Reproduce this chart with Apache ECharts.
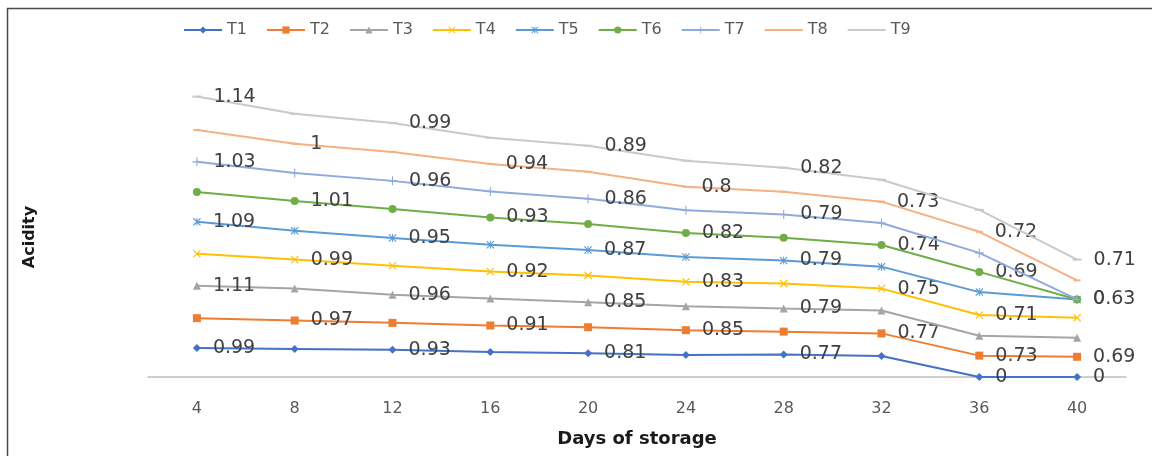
<!DOCTYPE html>
<html>
<head>
<meta charset="utf-8">
<script src="https://cdn.jsdelivr.net/npm/echarts@6/dist/echarts.min.js"></script>
<style>
html,body{margin:0;padding:0;background:#fff;}
#c{width:1152px;height:456px;}
</style>
</head>
<body>
<div id="c"></div>
<script>
var days = ['4','8','12','16','20','24','28','32','36','40'];
var seriesNames = ['T1','T2','T3','T4','T5','T6','T7','T8','T9'];
var T1 = [0.99, 0.96, 0.93, 0.85, 0.81, 0.75, 0.77, 0.72, 0, 0];
var T2 = [1.02, 0.97, 0.92, 0.91, 0.89, 0.85, 0.78, 0.77, 0.73, 0.69];
var T3 = [1.11, 1.09, 0.96, 0.92, 0.85, 0.82, 0.79, 0.78, 0.68, 0.65];
var T4 = [1.09, 0.99, 0.99, 0.92, 0.92, 0.83, 0.85, 0.75, 0.71, 0.68];
var T5 = [1.09, 0.99, 0.95, 0.92, 0.87, 0.85, 0.79, 0.75, 0.78, 0.63];
var T6 = [1.02, 1.01, 0.99, 0.93, 0.89, 0.82, 0.78, 0.74, 0.69, 0];
var T7 = [1.03, 0.96, 0.96, 0.89, 0.86, 0.78, 0.79, 0.75, 0.65, 0];
var T8 = [1.09, 1, 0.99, 0.94, 0.92, 0.8, 0.78, 0.73, 0.72, 0.65];
var T9 = [1.14, 1.02, 0.99, 0.89, 0.89, 0.89, 0.82, 0.75, 0.75, 0.71];
// indices of points that carry a data label
var L1 = [0,2,4,6,8,9];
var L2 = [1,3,5,7,8,9];
var L3 = [0,2,4,6];
var L4 = [1,3,5,7,8];
var L5 = [0,2,4,6,9];
var L6 = [1,3,5,7,8,9];
var L7 = [0,2,4,6];
var L8 = [1,3,5,7,8];
var L9 = [0,2,4,6,9];

var values = [T1,T2,T3,T4,T5,T6,T7,T8,T9];
var labelIdx = [L1,L2,L3,L4,L5,L6,L7,L8,L9];
var colors = ['#4472C4','#ED7D31','#A5A5A5','#FFC000','#5B9BD5','#70AD47','#8FAADC','#F4B183','#C9C9C9'];
var X_PATH = 'path://M0,1 L1,0 L5,4 L9,0 L10,1 L6,5 L10,9 L9,10 L5,6 L1,10 L0,9 L4,5 Z';
var STAR_PATH = 'path://M0,1 L1,0 L5,4 L9,0 L10,1 L6,5 L10,9 L9,10 L5,6 L1,10 L0,9 L4,5 Z M4.4,0 L5.6,0 L5.6,10 L4.4,10 Z';
var PLUS_PATH = 'path://M4.4,0 L5.6,0 L5.6,4.4 L10,4.4 L10,5.6 L5.6,5.6 L5.6,10 L4.4,10 L4.4,5.6 L0,5.6 L0,4.4 L4.4,4.4 Z';
var symbols = ['diamond','rect','triangle',X_PATH,STAR_PATH,'circle',PLUS_PATH,'rect','rect'];
var symbolSizes = [8,8,8,8,8,8,9,[7,2],[9,2]];

var series = seriesNames.map(function(name, i){
  var idx = labelIdx[i];
  return {
    name: name,
    type: 'line',
    stack: 'total',
    data: values[i],
    symbol: symbols[i],
    symbolSize: symbolSizes[i],
    showAllSymbol: true,
    lineStyle: {color: colors[i], width: 2},
    itemStyle: {color: colors[i]},
    z: 2 + i,
    label: {
      show: true,
      position: 'right',
      distance: 12,
      color: '#404040',
      fontFamily: 'DejaVu Sans',
      fontSize: 19,
      formatter: function(p){ return idx.indexOf(p.dataIndex) >= 0 ? String(p.value) : ''; }
    },
    emphasis: {disabled: true}
  };
});

var legendData = seriesNames.map(function(n, i){
  if (i >= 7) return {name: n, itemStyle: {color: 'transparent', borderColor: 'transparent'}};
  return {name: n};
});

var chart = echarts.init(document.getElementById('c'));
chart.setOption({
  animation: false,
  backgroundColor: '#fff',
  color: colors,
  legend: {
    top: 17,
    left: 178,
    itemWidth: 38,
    itemHeight: 9,
    itemGap: 19,
    textStyle: {color: '#595959', fontSize: 16, fontFamily: 'DejaVu Sans'},
    data: legendData
  },
  grid: {left: 148, right: 26, top: 55, bottom: 79, outerBoundsMode: 'none', containLabel: false},
  xAxis: {
    type: 'category',
    data: days,
    boundaryGap: true,
    axisLine: {lineStyle: {color: '#BFBFBF', width: 1.5}},
    axisTick: {show: false},
    axisLabel: {color: '#595959', fontSize: 16, fontFamily: 'DejaVu Sans', margin: 24},
    name: 'Days of storage',
    nameLocation: 'middle',
    nameGap: 53,
    nameTextStyle: {color: '#1a1a1a', fontSize: 18, fontWeight: 'bold', fontFamily: 'DejaVu Sans'}
  },
  yAxis: {
    type: 'value',
    min: 0,
    max: 11,
    show: false
  },
  graphic: [
    {type: 'line', shape: {x1: 7, y1: 8.5, x2: 1152, y2: 8.5}, style: {stroke: '#4a4a4a', lineWidth: 1.5}},
    {type: 'line', shape: {x1: 7.5, y1: 8, x2: 7.5, y2: 456}, style: {stroke: '#4a4a4a', lineWidth: 1.5}},
    {type: 'text', x: 30, y: 237, rotation: Math.PI / 2,
     style: {text: 'Acidity', font: 'bold 16px "DejaVu Sans"', fill: '#1a1a1a', align: 'center', verticalAlign: 'middle'}}
  ],
  series: series
});
</script>
</body>
</html>
